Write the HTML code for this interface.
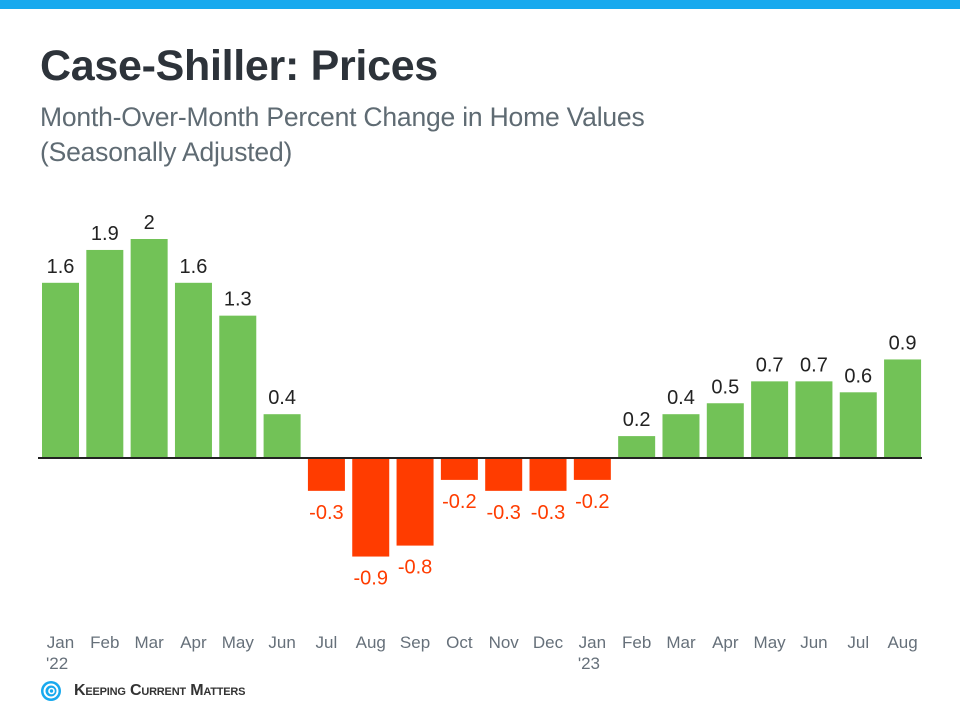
<!DOCTYPE html>
<html><head><meta charset="utf-8"><style>
body{margin:0;width:960px;height:720px;background:#fff;overflow:hidden;font-family:"Liberation Sans",sans-serif;position:relative}
.strip{position:absolute;left:0;top:0;width:960px;height:9px;background:#18a9ee}
h1{position:absolute;left:40px;top:42px;margin:0;font-size:43px;font-weight:bold;color:#2d333a;letter-spacing:-0.3px}
.sub{position:absolute;left:40px;top:100px;font-size:26.5px;line-height:35px;color:#5f6b73;letter-spacing:-0.2px}
svg{position:absolute;left:0;top:0}
.logo{position:absolute;left:40px;top:680px;display:flex;align-items:center}
.logo span{font-size:16px;font-weight:bold;color:#333;margin-left:12px;font-variant:small-caps;letter-spacing:-0.2px}
</style></head><body>
<div class="strip"></div>
<h1>Case-Shiller: Prices</h1>
<div class="sub">Month-Over-Month Percent Change in Home Values<br>(Seasonally Adjusted)</div>
<svg id="chart" width="960" height="720"></svg>
<div class="logo">
<svg width="22" height="22" viewBox="0 0 22 22" style="position:static"><circle cx="11" cy="11" r="10" fill="#18a9ee"/><circle cx="11" cy="11" r="6.5" fill="none" stroke="#fff" stroke-width="2"/><circle cx="11.5" cy="11" r="2.5" fill="none" stroke="#fff" stroke-width="1.6"/></svg>
<span>Keeping Current Matters</span></div>
<script>
const months=["Jan","Feb","Mar","Apr","May","Jun","Jul","Aug","Sep","Oct","Nov","Dec","Jan","Feb","Mar","Apr","May","Jun","Jul","Aug"];
const years=["'22","","","","","","","","","","","","'23","","","","","","",""];
const values=[1.6,1.9,2,1.6,1.3,0.4,-0.3,-0.9,-0.8,-0.2,-0.3,-0.3,-0.2,0.2,0.4,0.5,0.7,0.7,0.6,0.9];
const labels=["1.6","1.9","2","1.6","1.3","0.4","-0.3","-0.9","-0.8","-0.2","-0.3","-0.3","-0.2","0.2","0.4","0.5","0.7","0.7","0.6","0.9"];
const svg=document.getElementById('chart');const NS='http://www.w3.org/2000/svg';
const base=458,unit=109.5,x0=42,step=44.32,bw=37;
const y=v=>base-v*unit;const x=i=>x0+i*step;
function mk(t,a){const e=document.createElementNS(NS,t);for(const k in a)e.setAttribute(k,a[k]);svg.appendChild(e);return e;}
values.forEach((v,i)=>{
 const r=mk('rect',{x:x(i),y:Math.min(y(v),base),width:bw,height:Math.abs(y(v)-base),fill:v>=0?'#72c257':'#ff3c00'});
 
 
 const t=mk('text',{x:x(i)+bw/2,y:v>=0?y(v)-10:y(v)+28,'text-anchor':'middle','font-size':20,fill:v>=0?'#222':'#ff3c00'});
 t.textContent=labels[i];
 
 
 const m=mk('text',{x:x(i)+bw/2,y:648,'text-anchor':'middle','font-size':17,fill:'#66707a'});
 m.textContent=months[i];
 
 
 if(years[i]){const yy=mk('text',{x:x(i)+4,y:669,'font-size':17,fill:'#66707a'});yy.textContent=years[i];
 
 }
});
const ax=mk('line',{x1:38,x2:922,y1:base,y2:base,stroke:'#222','stroke-width':2});


</script>
</body></html>
